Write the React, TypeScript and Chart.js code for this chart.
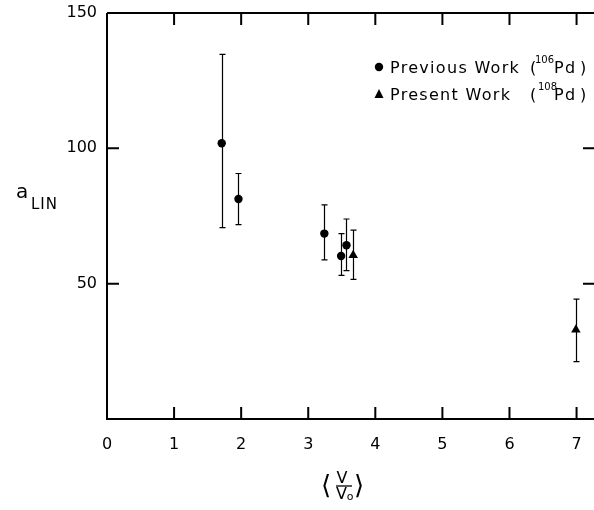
import React, { useEffect, useRef } from 'react';
import { Chart, registerables } from 'chart.js';

Chart.register(...registerables);

// ---- data ----
const prevX = [1.71, 1.96, 3.24, 3.49, 3.57];
const prevY = [101.9, 81.3, 68.5, 60.2, 64.2];
const prevHi = [134.7, 90.7, 79.1, 68.5, 73.9];
const prevLo = [70.7, 71.8, 58.8, 53.1, 54.8];

const presX = [3.67, 6.99];
const presY = [60.5, 33.0];
const presHi = [69.8, 44.3];
const presLo = [51.6, 21.2];

const xTicks = [0, 1, 2, 3, 4, 5, 6, 7];
const yTicks = [0, 50, 100, 150];

const legendPrev = { main: 'Previous Work', open: '(', sup: '106', rest: 'Pd', close: ')' };
const legendPres = { main: 'Present Work', open: '(', sup: '108', rest: 'Pd', close: ')' };

const FONT = '"DejaVu Sans", sans-serif';

const errorBarsPlugin = {
  id: 'errorBars',
  beforeDatasetsDraw(chart: any) {
    const { ctx, scales } = chart;
    const x = scales.x;
    const y = scales.y;
    const groups = [
      [prevX, prevHi, prevLo],
      [presX, presHi, presLo],
    ];
    ctx.save();
    ctx.strokeStyle = '#000';
    ctx.lineWidth = 1.2;
    for (const [xs, his, los] of groups) {
      for (let i = 0; i < xs.length; i++) {
        const px = Math.round(x.getPixelForValue(xs[i])) + 0.5;
        const pt = y.getPixelForValue(his[i]);
        const pb = y.getPixelForValue(los[i]);
        ctx.beginPath();
        ctx.moveTo(px, pt);
        ctx.lineTo(px, pb);
        ctx.moveTo(px - 3, pt);
        ctx.lineTo(px + 3, pt);
        ctx.moveTo(px - 3, pb);
        ctx.lineTo(px + 3, pb);
        ctx.stroke();
      }
    }
    ctx.restore();
  },
};

const framePlugin = {
  id: 'frame',
  afterDraw(chart: any) {
    const { ctx, chartArea, scales } = chart;
    const x = scales.x;
    const y = scales.y;
    const { left, right, top, bottom } = chartArea;
    ctx.save();
    ctx.strokeStyle = '#000';
    ctx.lineWidth = 2;
    ctx.beginPath();
    ctx.moveTo(left, top);
    ctx.lineTo(left, bottom);
    ctx.lineTo(right + 2, bottom);
    ctx.moveTo(left, top);
    ctx.lineTo(right + 2, top);
    ctx.stroke();

    const tl = 12;
    ctx.beginPath();
    for (const v of xTicks) {
      if (v === 0) continue;
      const px = x.getPixelForValue(v);
      ctx.moveTo(px, bottom);
      ctx.lineTo(px, bottom - tl);
      ctx.moveTo(px, top);
      ctx.lineTo(px, top + tl);
    }
    for (const v of yTicks) {
      if (v === 0 || v === 150) continue;
      const py = y.getPixelForValue(v);
      ctx.moveTo(left, py);
      ctx.lineTo(left + tl, py);
      ctx.moveTo(right + 1, py);
      ctx.lineTo(right - tl + 1, py);
    }
    ctx.stroke();

    // legend
    ctx.fillStyle = '#000';
    ctx.textBaseline = 'alphabetic';
    const drawLine = (item: any, baseline: number, marker: 'circle' | 'triangle') => {
      const mx = 379;
      const my = baseline - 6;
      ctx.beginPath();
      if (marker === 'circle') {
        ctx.arc(mx, my, 4.2, 0, Math.PI * 2);
      } else {
        ctx.moveTo(mx, my - 5);
        ctx.lineTo(mx + 4.5, my + 4);
        ctx.lineTo(mx - 4.5, my + 4);
        ctx.closePath();
      }
      ctx.fill();
      ctx.font = `16px ${FONT}`;
      (ctx as any).letterSpacing = '1.3px';
      ctx.textAlign = 'left';
      ctx.fillText(item.main, 390, baseline);
      ctx.fillText(item.open, 530, baseline);
      ctx.fillText(item.rest, 554, baseline);
      ctx.fillText(item.close, 580, baseline);
      (ctx as any).letterSpacing = '0px';
      ctx.font = `10px ${FONT}`;
      ctx.fillText(item.sup, marker === 'circle' ? 535 : 538, baseline - 10);
    };
    drawLine(legendPrev, 73, 'circle');
    drawLine(legendPres, 100, 'triangle');

    // y axis title: a_LIN
    ctx.font = `20px ${FONT}`;
    ctx.textAlign = 'left';
    ctx.fillText('a', 16, 198);
    ctx.font = `15px ${FONT}`;
    (ctx as any).letterSpacing = '1px';
    ctx.fillText('LIN', 31, 209);
    (ctx as any).letterSpacing = '0px';

    // x axis title: < V / Vo >
    ctx.font = `16px ${FONT}`;
    ctx.textAlign = 'center';
    ctx.fillText('V', 342, 483);
    ctx.fillText('V', 341.5, 498.5);
    ctx.font = `11px ${FONT}`;
    ctx.fillText('o', 350, 500);
    ctx.lineWidth = 1.3;
    ctx.beginPath();
    ctx.moveTo(336, 486);
    ctx.lineTo(352, 486);
    ctx.stroke();
    ctx.font = `26px ${FONT}`;
    ctx.fillText('\u27E8', 326, 494);
    ctx.fillText('\u27E9', 359, 494);
    ctx.restore();
  },
};

export default function App() {
  const ref = useRef<HTMLCanvasElement>(null);
  useEffect(() => {
    if (!ref.current) return;
    const chart = new Chart(ref.current, {
      type: 'scatter',
      data: {
        datasets: [
          {
            label: 'Previous Work (106Pd)',
            data: prevX.map((v, i) => ({ x: v, y: prevY[i] })),
            pointStyle: 'circle',
            pointRadius: 4.2,
            backgroundColor: '#000',
            borderColor: '#000',
            borderWidth: 0,
          },
          {
            label: 'Present Work (108Pd)',
            data: presX.map((v, i) => ({ x: v, y: presY[i] })),
            pointStyle: 'triangle',
            pointRadius: 5.5,
            backgroundColor: '#000',
            borderColor: '#000',
            borderWidth: 0,
          },
        ],
      },
      options: {
        animation: false,
        responsive: false,
        layout: { autoPadding: false, padding: { top: 13, left: 0, right: 0, bottom: 0 } },
        plugins: { legend: { display: false }, tooltip: { enabled: false } },
        scales: {
          x: {
            type: 'linear',
            min: 0,
            max: 7.26,
            afterBuildTicks: (s: any) => {
              s.ticks = xTicks.map((v) => ({ value: v }));
            },
            afterFit: (s: any) => {
              s.height = 91;
              s.paddingLeft = 0;
              s.paddingRight = 0;
            },
            grid: { display: false, drawTicks: false },
            border: { display: false },
            ticks: {
              padding: 16,
              color: '#000',
              font: { family: FONT, size: 16 },
              maxRotation: 0,
              autoSkip: false,
            },
          },
          y: {
            type: 'linear',
            min: 0,
            max: 150,
            afterBuildTicks: (s: any) => {
              s.ticks = yTicks.map((v) => ({ value: v }));
            },
            afterFit: (s: any) => {
              s.width = 107;
              s.paddingTop = 0;
              s.paddingBottom = 0;
            },
            grid: { display: false, drawTicks: false },
            border: { display: false },
            ticks: {
              padding: 10,
              color: '#000',
              font: { family: FONT, size: 16 },
              callback: (v: any) => (v === 0 ? '' : String(v)),
            },
          },
        },
      },
      plugins: [errorBarsPlugin, framePlugin],
    });
    return () => chart.destroy();
  }, []);
  return (
    <div style={{ position: 'absolute', left: 0, top: 0, width: 594, height: 510, background: '#fff' }}>
      <canvas ref={ref} width={594} height={510} style={{ display: 'block' }} />
    </div>
  );
}
